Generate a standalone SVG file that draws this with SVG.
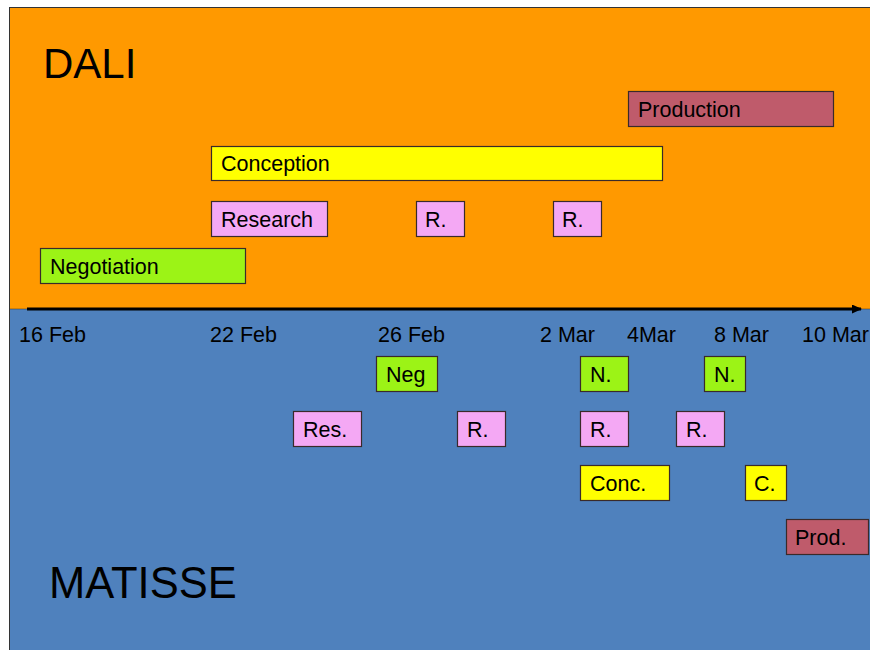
<svg xmlns="http://www.w3.org/2000/svg" width="870" height="650" viewBox="0 0 870 650">
<style>
.b{stroke:#3a2a2a;stroke-width:1.2}
.t{font-family:"Liberation Sans",Arial,sans-serif;font-size:21.5px;fill:#000}
.d{font-family:"Liberation Sans",Arial,sans-serif;font-size:21.5px;fill:#000}
.h{font-family:"Liberation Sans",Arial,sans-serif;font-size:42px;fill:#000}
.g{fill:#9CF316}.p{fill:#F4A8F4}.y{fill:#FFFF00}.r{fill:#BF5B6B}
</style>
<defs>
<marker id="ah" markerWidth="10" markerHeight="9" refX="9" refY="4.5" orient="auto" markerUnits="userSpaceOnUse">
<path d="M0,0 L10,4.5 L0,9 Z" fill="#000"/>
</marker>
</defs>
<rect x="0" y="0" width="870" height="650" fill="#fff"/>
<g id="bands">
<rect x="9.5" y="7.5" width="862" height="302" fill="#FF9900" stroke="#333" stroke-width="1"/>
<rect x="9.5" y="309" width="862" height="342" fill="#4F81BD" stroke="#333" stroke-width="1"/>
<rect x="10" y="8" width="860" height="300.5" fill="#FF9900"/>
<rect x="10" y="309.5" width="860" height="341" fill="#4F81BD"/>
</g>
<text class="h" x="43" y="78">DALI</text>
<text class="h" x="49" y="598" style="font-size:43.5px">MATISSE</text>
<g id="connectors">
<line x1="27" y1="309" x2="861" y2="309" stroke="#000" stroke-width="3" marker-end="url(#ah)"/>
</g>
<g id="dates">
<text class="d" x="19" y="342">16 Feb</text>
<text class="d" x="210" y="342">22 Feb</text>
<text class="d" x="378" y="342">26 Feb</text>
<text class="d" x="540" y="342">2 Mar</text>
<text class="d" x="627" y="342">4Mar</text>
<text class="d" x="714" y="342">8 Mar</text>
<text class="d" x="802" y="342">10 Mar</text>
</g>
<g id="dali-production"><rect class="b r" x="628.5" y="91.5" width="205" height="35"/><text class="t" x="638" y="117">Production</text></g>
<g id="dali-conception"><rect class="b y" x="211.5" y="146.5" width="451" height="34"/><text class="t" x="221" y="171">Conception</text></g>
<g id="dali-research"><rect class="b p" x="211.5" y="201.5" width="116" height="35"/><text class="t" x="221" y="227">Research</text></g>
<g id="dali-r1"><rect class="b p" x="416.5" y="201.5" width="48" height="35"/><text class="t" x="425" y="227">R.</text></g>
<g id="dali-r2"><rect class="b p" x="553.5" y="201.5" width="48" height="35"/><text class="t" x="562" y="227">R.</text></g>
<g id="dali-negotiation"><rect class="b g" x="40.5" y="248.5" width="205" height="35"/><text class="t" x="50" y="274">Negotiation</text></g>
<g id="matisse-neg"><rect class="b g" x="376.5" y="356.5" width="61" height="35"/><text class="t" x="386" y="382">Neg</text></g>
<g id="matisse-n1"><rect class="b g" x="580.5" y="356.5" width="48" height="35"/><text class="t" x="590" y="382">N.</text></g>
<g id="matisse-n2"><rect class="b g" x="704.5" y="356.5" width="41" height="35"/><text class="t" x="714" y="382">N.</text></g>
<g id="matisse-res"><rect class="b p" x="293.5" y="411.5" width="68" height="35"/><text class="t" x="303" y="437">Res.</text></g>
<g id="matisse-r1"><rect class="b p" x="457.5" y="411.5" width="48" height="35"/><text class="t" x="467" y="437">R.</text></g>
<g id="matisse-r2"><rect class="b p" x="580.5" y="411.5" width="48" height="35"/><text class="t" x="590" y="437">R.</text></g>
<g id="matisse-r3"><rect class="b p" x="676.5" y="411.5" width="48" height="35"/><text class="t" x="686" y="437">R.</text></g>
<g id="matisse-conc"><rect class="b y" x="580.5" y="465.5" width="89" height="35"/><text class="t" x="590" y="491">Conc.</text></g>
<g id="matisse-c"><rect class="b y" x="745.5" y="465.5" width="41" height="35"/><text class="t" x="754" y="491">C.</text></g>
<g id="matisse-prod"><rect class="b r" x="786.5" y="519.5" width="82" height="35"/><text class="t" x="795" y="545">Prod.</text></g>
</svg>
